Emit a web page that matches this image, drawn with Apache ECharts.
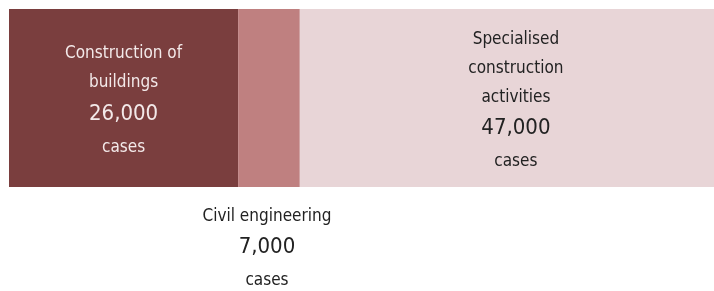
<!DOCTYPE html>
<html>
<head>
<meta charset="utf-8">
<script src="https://cdn.jsdelivr.net/npm/echarts@6/dist/echarts.min.js"></script>
<style>
  html, body { margin: 0; padding: 0; background: #fff; }
  #chart { width: 714px; height: 291px; }
</style>
</head>
<body>
<div id="chart"></div>
<script>
// case counts by construction sub-sector
var sectors = ['Construction of\nbuildings', 'Civil engineering', 'Specialised\nconstruction\nactivities'];
var cases = [26000, 7000, 47000];
var colors = ['#7a3e3e', '#bf8080', '#e8d5d7'];
var textColors = ['#f3e9e9', '#222222', '#222222'];

var fontFam = '"Liberation Sans Narrow", "DejaVu Sans Condensed", sans-serif';

function fmt(v) {
    return v.toString().replace(/\B(?=(\d{3})+(?!\d))/g, ',');
}

var offsets = [[0, 4], [-2, 0], [9, 4]];

var series = [];
for (var i = 0; i < sectors.length; i++) {
    var nameLines = sectors[i].split('\n').map(function (s) { return '{n|' + s + '}'; }).join('\n');
    var below = (i == 1);
    series.push({
        name: sectors[i],
        type: 'bar',
        stack: 'all',
        barWidth: '100%',
        data: [cases[i]],
        itemStyle: { color: colors[i] },
        label: {
            show: true,
            position: below ? 'bottom' : 'inside',
            distance: 15,
            offset: offsets[i],
            align: 'center',
            formatter: nameLines + '\n{v|' + fmt(cases[i]) + '}\n{c|cases}',
            rich: {
                n: { fontSize: 17, lineHeight: 29, color: textColors[i], fontFamily: fontFam },
                v: { fontSize: 22, lineHeight: 33, color: textColors[i], fontFamily: fontFam },
                c: { fontSize: 17, lineHeight: 34, color: textColors[i], fontFamily: fontFam }
            }
        }
    });
}

var myChart = echarts.init(document.getElementById('chart'));
var option = {
    animation: false,
    grid: { left: 9, right: 0, top: 9, height: 178 },
    xAxis: { type: 'value', min: 0, max: 80000, show: false },
    yAxis: { type: 'category', data: ['cases'], show: false },
    series: series
};
myChart.setOption(option);
</script>
</body>
</html>
